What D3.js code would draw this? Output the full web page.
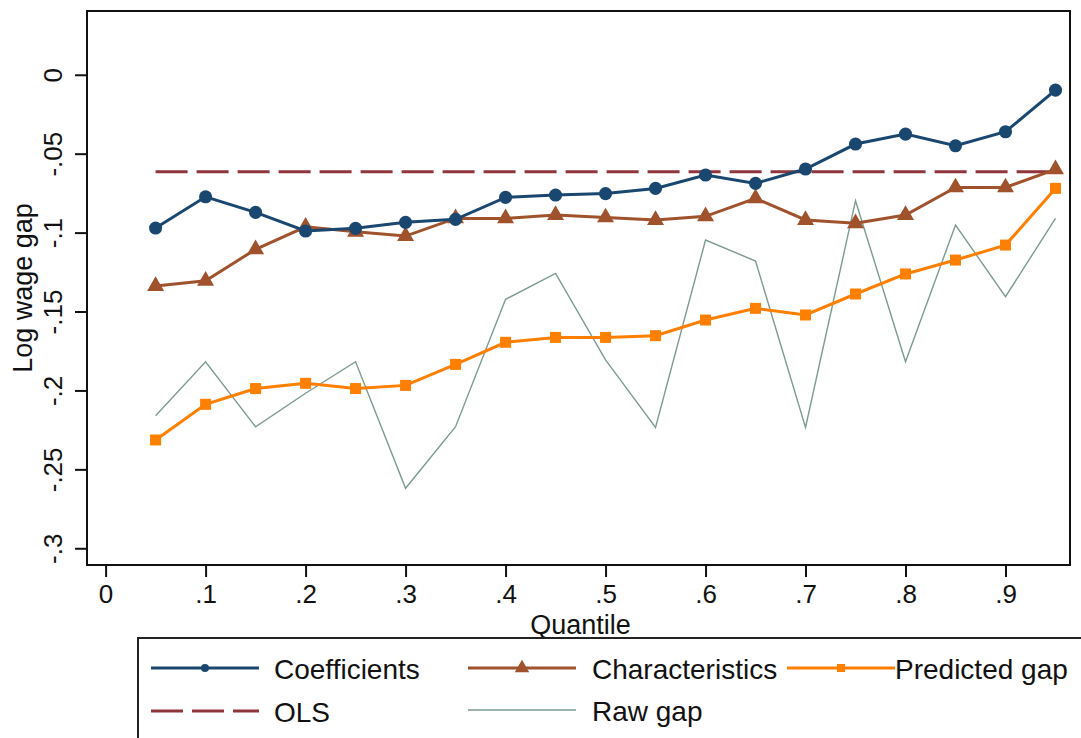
<!DOCTYPE html>
<html>
<head>
<meta charset="utf-8">
<script src="https://cdn.jsdelivr.net/npm/d3@7"></script>
<style>
  body { margin: 0; background: white; }
  text { font-family: "Liberation Sans", Arial, sans-serif; fill: #111; }
  .kreska { fill: none; stroke-width: 3; }
</style>
</head>
<body>
<div id="wykres"></div>
<script>
var quantiles = [0.05, 0.1, 0.15, 0.2, 0.25, 0.3, 0.35, 0.4, 0.45, 0.5, 0.55, 0.6, 0.65, 0.7, 0.75, 0.8, 0.85, 0.9, 0.95];

var coefficients = [-0.0971, -0.0773, -0.0872, -0.0990, -0.0973, -0.0935, -0.0916, -0.0777, -0.0762, -0.0753,
                    -0.0720, -0.0635, -0.0688, -0.0597, -0.0439, -0.0376, -0.0450, -0.0361, -0.0097];
var characteristics = [-0.1339, -0.1305, -0.1106, -0.0963, -0.0995, -0.1022, -0.0910, -0.0910, -0.0889, -0.0904,
                       -0.0920, -0.0897, -0.0783, -0.0920, -0.0941, -0.0889, -0.0714, -0.0714, -0.0599];
var predicted = [-0.2314, -0.2088, -0.1988, -0.1955, -0.1988, -0.1968, -0.1835, -0.1695, -0.1664, -0.1664,
                 -0.1653, -0.1554, -0.1480, -0.1522, -0.1389, -0.1262, -0.1174, -0.1079, -0.0720];
var rawgap = [-0.2160, -0.1818, -0.2230, -0.2018, -0.1818, -0.2620, -0.2230, -0.1423, -0.1258, -0.1807,
              -0.2234, -0.1047, -0.1180, -0.2234, -0.0798, -0.1818, -0.0952, -0.1406, -0.0910];
var ols = -0.0614;

var xTicks = [0, 0.1, 0.2, 0.3, 0.4, 0.5, 0.6, 0.7, 0.8, 0.9];
var xTickLabels = ["0", ".1", ".2", ".3", ".4", ".5", ".6", ".7", ".8", ".9"];
var yTicks = [0, -0.05, -0.1, -0.15, -0.2, -0.25, -0.3];
var yTickLabels = ["0", "-.05", "-.1", "-.15", "-.2", "-.25", "-.3"];

var legendNames = ["Coefficients", "Characteristics", "Predicted gap", "OLS", "Raw gap"];

var width = 1081, height = 738;
var plot = { left: 87, right: 1070, top: 11, bottom: 565 };

var svg = d3.select('#wykres')
  .append("svg")
  .attr("width", width)
  .attr("height", height)
  .style("display", "block");

var xscale = d3.scaleLinear()
  .domain([-0.0186, 0.9645])
  .range([plot.left, plot.right]);

var yscale = d3.scaleLinear()
  .domain([-0.3106, 0.0404])
  .range([plot.bottom, plot.top]);

// axes, ticks outside of the frame
var xAxis = svg.append("g")
  .attr("transform", "translate(0," + (plot.bottom + 1) + ")")
  .call(d3.axisBottom(xscale).tickValues(xTicks).tickSize(11).tickPadding(8)
    .tickFormat(function (d, i) { return xTickLabels[i] }));
xAxis.select(".domain").remove();
xAxis.selectAll("line").attr("stroke", "#111").attr("stroke-width", 2);
xAxis.selectAll("text")
  .attr("fill", "#111")
  .style("font-size", "26px")
  .style("font-family", "Liberation Sans, Arial, sans-serif");

var yAxis = svg.append("g")
  .attr("transform", "translate(" + (plot.left - 1) + ",0)")
  .call(d3.axisLeft(yscale).tickValues(yTicks).tickSize(11).tickPadding(0)
    .tickFormat(function (d, i) { return yTickLabels[i] }));
yAxis.select(".domain").remove();
yAxis.selectAll("line").attr("stroke", "#111").attr("stroke-width", 2);
yAxis.selectAll("text")
  .attr("fill", "#111")
  .attr("x", null).attr("dy", null)
  .attr("transform", "translate(-24,0)rotate(-90)")
  .style("text-anchor", "middle")
  .style("font-size", "26px")
  .style("font-family", "Liberation Sans, Arial, sans-serif");

// frame
svg.append("rect")
  .attr("x", plot.left)
  .attr("y", plot.top)
  .attr("width", plot.right - plot.left)
  .attr("height", plot.bottom - plot.top)
  .attr("fill", "none")
  .attr("stroke", "#111")
  .attr("stroke-width", 2);

svg.append("text")
  .attr("transform", "translate(32," + ((plot.top + plot.bottom) / 2) + ")rotate(-90)")
  .style("text-anchor", "middle")
  .style("font-size", "27px")
  .text("Log wage gap");

svg.append("text")
  .attr("x", (plot.left + plot.right) / 2 + 2)
  .attr("y", 634)
  .style("text-anchor", "middle")
  .style("font-size", "27px")
  .text("Quantile");

var line = d3.line()
  .x(function (d) { return xscale(d.q) })
  .y(function (d) { return yscale(d.v) });

function series(vals) {
  return quantiles.map(function (q, i) { return { q: q, v: vals[i] } });
}

// OLS dashed line
svg.append("line")
  .attr("x1", xscale(quantiles[0]))
  .attr("x2", xscale(quantiles[quantiles.length - 1]))
  .attr("y1", yscale(ols))
  .attr("y2", yscale(ols))
  .attr("stroke", "#90353b")
  .attr("stroke-width", 3)
  .attr("stroke-dasharray", "32,9");

// raw gap, thin
svg.append("path")
  .datum(series(rawgap))
  .attr("fill", "none")
  .attr("stroke", "#7d9b90")
  .attr("stroke-width", 1.4)
  .attr("d", line);

var seriesList = [
  { vals: predicted, color: "#ff7f00", symbol: d3.symbolSquare, size: 121 },
  { vals: characteristics, color: "#a0522d", symbol: d3.symbolTriangle, size: 125 },
  { vals: coefficients, color: "#1a476f", symbol: d3.symbolCircle, size: 135 }
];

seriesList.forEach(function (s) {
  svg.append("path")
    .datum(series(s.vals))
    .attr("class", "kreska")
    .attr("stroke", s.color)
    .attr("d", line);

  svg.append("g").selectAll("path")
    .data(series(s.vals))
    .enter().append("path")
    .attr("transform", function (d) { return "translate(" + xscale(d.q) + "," + yscale(d.v) + ")" })
    .attr("d", d3.symbol().type(s.symbol).size(s.size))
    .attr("fill", s.color);
});

// legend box (runs past the bottom/right edge)
svg.append("rect")
  .attr("x", 138)
  .attr("y", 638)
  .attr("width", 1000)
  .attr("height", 200)
  .attr("fill", "white")
  .attr("stroke", "#222")
  .attr("stroke-width", 2);

var legendItems = [
  { name: legendNames[0], x: 151, y: 668, tx: 274, color: "#1a476f", w: 3, symbol: d3.symbolCircle, size: 50 },
  { name: legendNames[1], x: 468, y: 668, tx: 592, color: "#a0522d", w: 3, symbol: d3.symbolTriangle, size: 90 },
  { name: legendNames[2], x: 787, y: 668, tx: 895, color: "#ff7f00", w: 3, symbol: d3.symbolSquare, size: 64 },
  { name: legendNames[3], x: 151, y: 711, tx: 274, color: "#90353b", w: 3, dash: "32,9" },
  { name: legendNames[4], x: 468, y: 710, tx: 592, color: "#7d9b90", w: 1.4 }
];

var lg = svg.append("g").selectAll("g")
  .data(legendItems)
  .enter().append("g");

lg.append("line")
  .attr("x1", d => d.x)
  .attr("x2", d => d.x + 108)
  .attr("y1", d => d.y)
  .attr("y2", d => d.y)
  .attr("stroke", d => d.color)
  .attr("stroke-width", d => d.w)
  .attr("stroke-dasharray", d => d.dash || null);

lg.filter(d => d.symbol)
  .append("path")
  .attr("transform", d => "translate(" + (d.x + 54) + "," + d.y + ")")
  .attr("d", d => d3.symbol().type(d.symbol).size(d.size)())
  .attr("fill", d => d.color);

lg.append("text")
  .attr("x", d => d.tx)
  .attr("y", d => d.y + 11)
  .style("font-size", "28px")
  .text(d => d.name);
</script>
</body>
</html>
